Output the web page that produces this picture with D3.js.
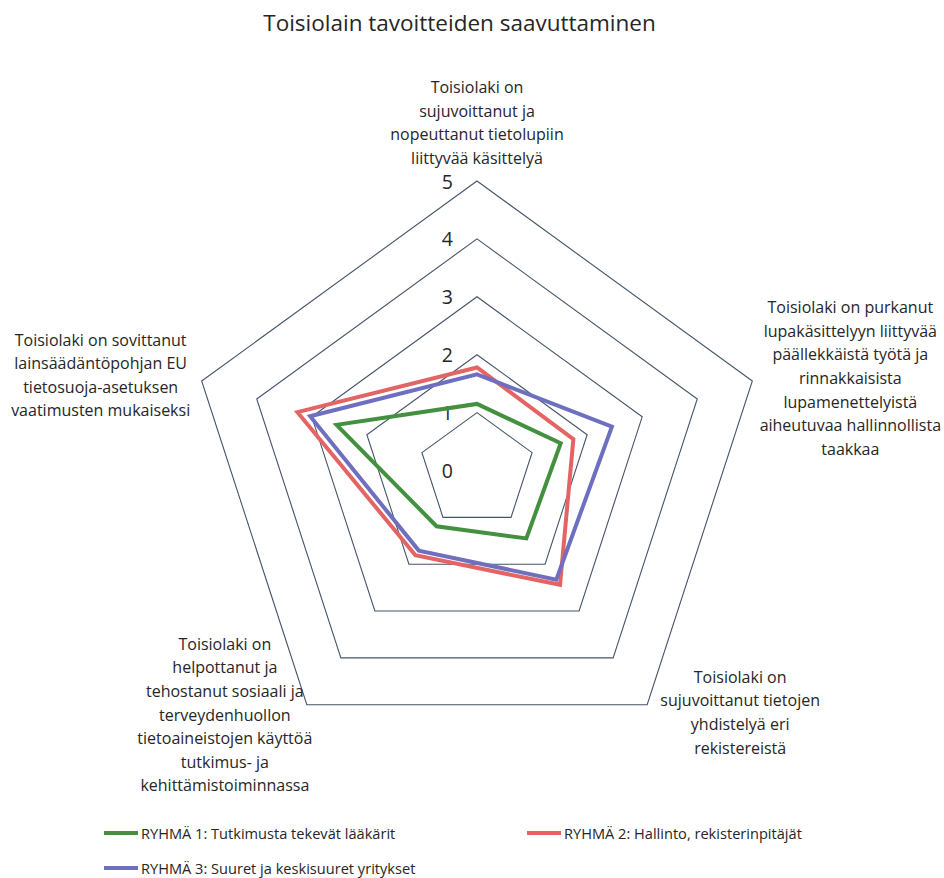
<!DOCTYPE html>
<html><head><meta charset="utf-8">
<script src="https://cdn.jsdelivr.net/npm/d3@7"></script>
<style>
body{margin:0;background:#fff;}
svg{display:block;font-family:"Open Sans",Lato,sans-serif;}
</style></head>
<body>
<svg id="chart" width="944" height="878"></svg>
<script>
const title = "Toisiolain tavoitteiden saavuttaminen";
const categories = [
  ["Toisiolaki on","sujuvoittanut ja","nopeuttanut tietolupiin","liittyvää käsittelyä"],
  ["Toisiolaki on purkanut","lupakäsittelyyn liittyvää","päällekkäistä työtä ja","rinnakkaisista","lupamenettelyistä","aiheutuvaa hallinnollista","taakkaa"],
  ["Toisiolaki on","sujuvoittanut tietojen","yhdistelyä eri","rekistereistä"],
  ["Toisiolaki on","helpottanut ja","tehostanut sosiaali ja","terveydenhuollon","tietoaineistojen käyttöä","tutkimus- ja","kehittämistoiminnassa"],
  ["Toisiolaki on sovittanut","lainsäädäntöpohjan EU","tietosuoja-asetuksen","vaatimusten mukaiseksi"]
];
const seriesNames = ["RYHMÄ 1: Tutkimusta tekevät lääkärit","RYHMÄ 2: Hallinto, rekisterinpitäjät","RYHMÄ 3: Suuret ja keskisuuret yritykset"];
const group1 = [1.15, 1.52, 1.45, 1.19, 2.55];
const group2 = [1.78, 1.75, 2.44, 1.81, 3.26];
const group3 = [1.66, 2.45, 2.33, 1.71, 3.03];
const tickValues = [0,1,2,3,4,5];
const colors = ["#43913f","#e46464","#6e6fbf"];

const svg = d3.select("#chart");
const cx = 477, cy = 470.5;
const r = d3.scaleLinear().domain([0,5]).range([0,289.5]);
const n = categories.length;
const angle = d3.scaleLinear().domain([0,n]).range([0, 2*Math.PI]);
const pt = (i,v)=>[cx + r(v)*Math.sin(angle(i)), cy - r(v)*Math.cos(angle(i))];

svg.append("text").attr("x",459.5).attr("y",22).attr("text-anchor","middle")
  .attr("dominant-baseline","central").attr("font-size",22.5).attr("fill","#262626").text(title);

// grid
const line = d3.line().curve(d3.curveLinearClosed);
tickValues.filter(t=>t>0).forEach(t=>{
  svg.append("path").attr("d", line(d3.range(n).map(i=>pt(i,t))))
    .attr("fill","none").attr("stroke","#44546a").attr("stroke-width",1.1);
});
// tick labels
svg.selectAll("text.tick").data(tickValues).join("text").attr("class","tick")
  .attr("x", cx-24).attr("y", d=>pt(0,d)[1]).attr("text-anchor","end")
  .attr("dominant-baseline","central").attr("font-size",19.5).attr("fill","#262626").text(d=>d);

// series
[group1,group2,group3].forEach((vals,k)=>{
  svg.append("path").attr("d", line(vals.map((v,i)=>pt(i,v))))
    .attr("fill","none").attr("stroke",colors[k]).attr("stroke-width",4).attr("stroke-linejoin","miter");
});

// category labels (layout offsets relative to outer vertex)
const lh = 23.6;
const labelPos = [
  (p,lines)=>[p[0], p[1]-23 - (lines-1)*lh],
  (p,lines)=>[p[0]+98, p[1]-3 - (lines-1)*lh/2],
  (p,lines)=>[p[0]+93, p[1]-28],
  (p,lines)=>[p[0]-82, p[1]-61],
  (p,lines)=>[p[0]-101, p[1]-6 - (lines-1)*lh/2]
];
categories.forEach((lines,i)=>{
  const p = pt(i,5);
  const [x,y0] = labelPos[i](p, lines.length);
  const t = svg.append("text").attr("text-anchor","middle").attr("font-size",16).attr("fill","#262626");
  lines.forEach((s,j)=>{
    t.append("tspan").attr("x",x).attr("y",y0+j*lh).attr("dominant-baseline","central").text(s);
  });
});

// legend
const legendPos = [[104,833],[527,833],[104,868]];
seriesNames.forEach((s,k)=>{
  const [x,y] = legendPos[k];
  svg.append("line").attr("x1",x).attr("x2",x+34).attr("y1",y).attr("y2",y)
    .attr("stroke",colors[k]).attr("stroke-width",4);
  svg.append("text").attr("x",x+37).attr("y",y).attr("dominant-baseline","central")
    .attr("font-size",14.6).attr("fill","#262626").text(s);
});
</script>
</body></html>
